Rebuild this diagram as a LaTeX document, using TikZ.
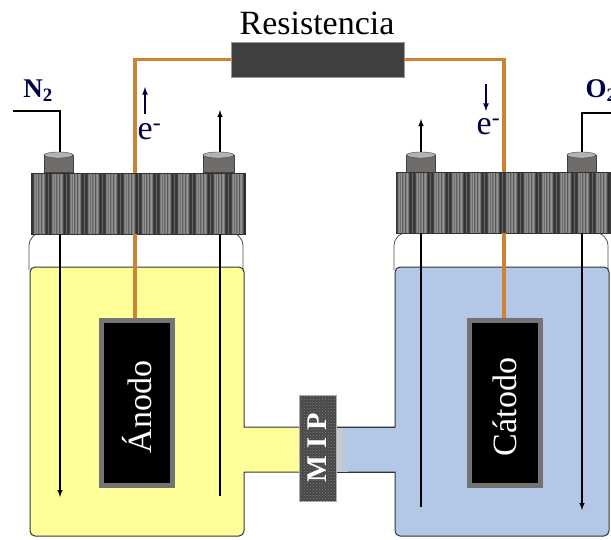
\documentclass[tikz,border=0pt]{standalone}
\usepackage{fontspec}
\setmainfont{Liberation Serif}
\usetikzlibrary{shapes,arrows,calc,patterns}
\definecolor{wirecolor}{RGB}{207,130,52}
\definecolor{anodefill}{RGB}{255,255,153}
\definecolor{cathodefill}{RGB}{179,199,230}
\definecolor{navytext}{RGB}{0,0,70}
\definecolor{knobgray}{RGB}{112,108,106}
\begin{document}
\begin{tikzpicture}[x=1pt,y=-1pt]
      \tikzset{lid/.style={draw=black!80,semithick,inner sep=0pt,outer sep=0pt,
          minimum width=214pt,minimum height=61pt,
          path picture={
            \foreach \n in {0,...,12}
              \foreach \g [count=\i from 0] in {80,72,52,45,56,42,62,50,44,66,48,42,55,70,82,76,60,76}
                \fill [black!\g] ($(path picture bounding box.south west)+(18*\n+\i,0)$) rectangle +(1.1,-62);
          }},
        knob/.style={draw=black!75,fill=knobgray,inner sep=0pt,outer sep=0pt,
          minimum width=29pt,minimum height=17pt},
        knob top/.style={ellipse,draw=black!75,fill=black!30,inner sep=0pt,outer sep=0pt,
          minimum width=29pt,minimum height=6pt},
        electrode/.style={draw=black!55,line width=5pt,fill=black,text=white,inner sep=0pt,
          minimum width=71pt,minimum height=165pt},
        wire/.style={draw=wirecolor,line width=3.6pt},
        gasline/.style={draw=black,line width=1.4pt},
        vessel/.style={draw=black!80,line width=1pt},
        small arrow/.style={draw=navytext,line width=1.6pt,-latex},
        bigtext/.style={font=\fontsize{34}{34}\selectfont}
      }
      \useasboundingbox (0,0) rectangle (611,539);
      \clip (0,0) rectangle (611,539);
      % necks
      \draw [black!70,line width=0.8pt,rounded corners=14pt] (29,270)--(29,232)--(243,232)--(243,270);
      \draw [black!70,line width=0.8pt,rounded corners=14pt] (394,270)--(394,232)--(608,232)--(608,270);
      % vessels
      \draw [vessel,fill=anodefill] (244,427) [rounded corners=5pt] --(244,267)--(30,267)--(30,536)--(244,536) [sharp corners] --(244,472)--(300,472)--(300,427)--cycle;
      \draw [vessel,fill=cathodefill] (395,427) [rounded corners=5pt] --(395,267)--(609,267)--(609,536)--(395,536) [sharp corners] --(395,472)--(335,472)--(335,427)--cycle;
      \shade [left color=black!20,right color=cathodefill] (336,428) rectangle (348,471);
      \draw [vessel] (336,427)--(395,427) (336,472)--(395,472);
      % main parts
      \node [draw=black!40,fill=black!75,minimum width=173pt,minimum height=35pt,inner sep=0pt,outer sep=0pt] (res) at (317.5,59.5) {};
      \node [bigtext] (restext) at (317,23) {Resistencia};
      \coordinate (wireA) at (135,318);
      \coordinate (wireC) at (504,318);
      \draw [wire] (wireA) |- (res.west);
      \draw [wire] (wireC) |- (res.east);
      \node [electrode] (anode) at (137,403) {};
      \node [electrode] (cathode) at (504.5,403) {};
      \node [rotate=90,text=white,bigtext] (anodetext) at ($(anode)+(0,4)$) {Ánodo};
      \node [rotate=90,text=white,bigtext] (cathodetext) at ($(cathode)+(0,4)$) {Cátodo};
      \node [knob] (knobA) at (58.5,163.5) {};
      \node [knob,minimum width=31pt] (knobB) at (218.5,163.5) {};
      \node [knob] (knobC) at (421,163.5) {};
      \node [knob] (knobD) at (581.5,163.5) {};
      \node [knob top] (topA) at (knobA.north) {};
      \node [knob top,minimum width=31pt] (topB) at (knobB.north) {};
      \node [knob top] (topC) at (knobC.north) {};
      \node [knob top] (topD) at (knobD.north) {};
      % gas lines
      \coordinate (inA) at (13,111);
      \coordinate (inAend) at (60,497);
      \coordinate (outB) at (220,110);
      \coordinate (outBend) at (220,496);
      \coordinate (outC) at (421,119);
      \coordinate (outCend) at (421,507);
      \coordinate (inD) at (611,113);
      \coordinate (inDend) at (582,510);
      \node [lid] (lidA) at (138.5,203.5) {};
      \node [lid] (lidC) at (503,202.5) {};
      \draw [gasline] (inA) -| (inAend |- topA.north);
      \draw [gasline,-latex] (inAend |- lidA.south) -- (inAend);
      \draw [gasline,-latex] (outB |- topB.north) -- (outB);
      \draw [gasline] (outBend |- lidA.south) -- (outBend);
      \draw [gasline,-latex] (outC |- topC.north) -- (outC);
      \draw [gasline] (outCend |- lidC.south) -- (outCend);
      \draw [gasline] (inD) -| (inDend |- topD.north);
      \draw [gasline,-latex] (inDend |- lidC.south) -- (inDend);
      \draw [wire] (wireA |- lidA.south) -- (wireA);
      \draw [wire] (wireC |- lidC.south) -- (wireC);
      \draw [wire] (wireA |- lidA.north) -- +(0,-6);
      \draw [wire] (wireC |- lidC.north) -- +(0,-6);
      % membrane
      \node [draw=black!30,fill=black!72,minimum width=37pt,minimum height=106pt,inner sep=0pt,outer sep=0pt] (mip) at (317.5,448) {};
      \fill [pattern=crosshatch dots,pattern color=black!50] (mip.south west) rectangle (mip.north east);
      \node [rotate=90,text=white,font=\bfseries\fontsize{28.5}{28.5}\selectfont] (miptext) at (mip) {M I P};
      % labels
      \node [text=navytext,font=\bfseries\fontsize{27}{27}\selectfont] (nitrogen) at (38,91) {N\textsubscript{2}};
      \node [text=navytext,font=\bfseries\fontsize{27}{27}\selectfont,anchor=west] (oxygen) at (582,91) {O\textsubscript{2}};
      \node [text=navytext,bigtext] (eA) at (149.5,132) {e\textsuperscript{-}};
      \node [text=navytext,bigtext] (eC) at (488.5,127) {e\textsuperscript{-}};
      \coordinate (eAtail) at (145,114);
      \coordinate (eAtip) at (145,87);
      \coordinate (eCtail) at (486,84);
      \coordinate (eCtip) at (486,111);
      \draw [small arrow] (eAtail) -- (eAtip);
      \draw [small arrow] (eCtail) -- (eCtip);
    \end{tikzpicture}
\end{document}
